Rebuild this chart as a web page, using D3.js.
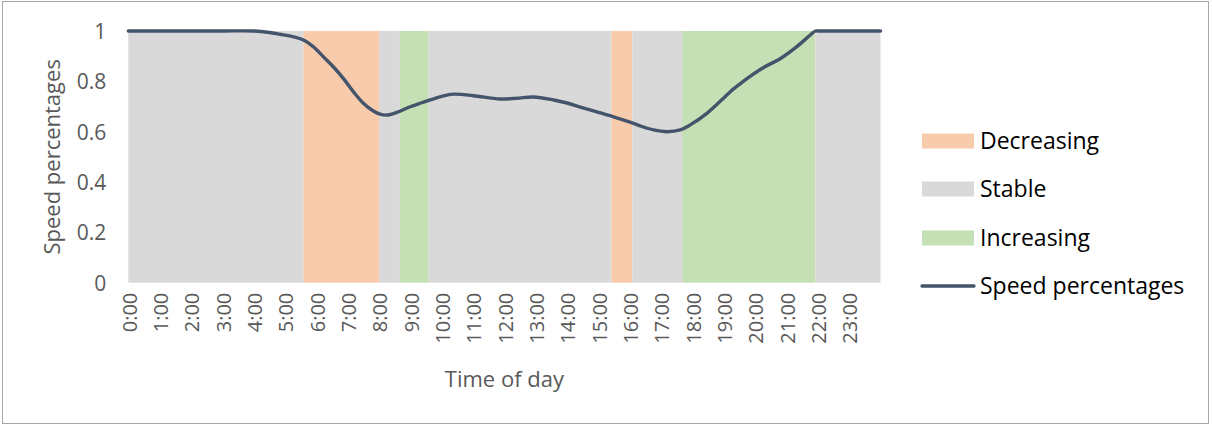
<!DOCTYPE html>
<html>
<head>
<meta charset="utf-8">
<script src="https://cdn.jsdelivr.net/npm/d3@7"></script>
<style>
  html, body { margin: 0; padding: 0; background: #fff; }
  svg { display: block; }
  text { font-family: "Open Sans", Lato, sans-serif; }
</style>
</head>
<body>
<svg id="chart" width="1212" height="427"></svg>
<script>
// ---- Data ----
const segmentStates = ["Stable", "Decreasing", "Stable", "Increasing", "Stable", "Decreasing", "Stable", "Increasing", "Stable"];
const segmentStartHours = [0, 5.583, 8.0, 8.667, 9.583, 15.417, 16.083, 17.667, 21.917];
const segmentEndHours = [5.583, 8.0, 8.667, 9.583, 15.417, 16.083, 17.667, 21.917, 24];

const speedHours = [0, 1, 2, 3, 4, 4.5, 4.84, 5.27, 5.59, 5.90, 6.22, 6.54, 6.86, 7.18, 7.50, 7.82, 8.03, 8.25, 8.57, 8.99, 9.31, 9.63, 10.0, 10.37, 11.01, 11.86, 12.4, 12.93, 13.57, 14.0, 14.42, 15.0, 15.48, 16.12, 16.33, 16.76, 17.19, 17.61, 17.93, 18.46, 18.99, 19.21, 19.52, 19.74, 20.27, 20.80, 21.33, 21.76, 21.92, 22, 23, 24];
const speedValues = [1, 1, 1, 1, 1, 0.994, 0.987, 0.977, 0.964, 0.938, 0.898, 0.858, 0.812, 0.759, 0.713, 0.682, 0.670, 0.666, 0.677, 0.699, 0.713, 0.726, 0.740, 0.749, 0.743, 0.730, 0.733, 0.738, 0.726, 0.714, 0.698, 0.677, 0.659, 0.633, 0.623, 0.607, 0.600, 0.607, 0.627, 0.673, 0.733, 0.759, 0.790, 0.811, 0.855, 0.890, 0.938, 0.984, 1, 1, 1, 1];

const hourLabels = ["0:00","1:00","2:00","3:00","4:00","5:00","6:00","7:00","8:00","9:00","10:00","11:00","12:00","13:00","14:00","15:00","16:00","17:00","18:00","19:00","20:00","21:00","22:00","23:00"];
const yTicks = [0, 0.2, 0.4, 0.6, 0.8, 1];

const legendLabels = ["Decreasing", "Stable", "Increasing", "Speed percentages"];
const stateColors = { Decreasing: "#F8CBAD", Stable: "#D9D9D9", Increasing: "#C5E0B4" };
const lineColor = "#44546A";

// ---- Layout ----
const svg = d3.select("#chart");
const W = 1212, H = 427;
const plot = { left: 128.3, right: 880.5, top: 31, bottom: 282.7 };

svg.append("rect").attr("x", 2.5).attr("y", 1.5).attr("width", W - 6).attr("height", H - 5)
  .attr("fill", "#fff").attr("stroke", "#A6A6A6").attr("stroke-width", 1);

const x = d3.scaleLinear().domain([0, 24]).range([plot.left, plot.right]);
const y = d3.scaleLinear().domain([0, 1]).range([plot.bottom, plot.top]);

// Bands
svg.append("g").selectAll("rect")
  .data(segmentStates.map((s, i) => ({ s, a: segmentStartHours[i], b: segmentEndHours[i] })))
  .join("rect")
  .attr("x", d => x(d.a))
  .attr("width", d => x(d.b) - x(d.a))
  .attr("y", y(1))
  .attr("height", y(0) - y(1))
  .attr("fill", d => stateColors[d.s]);

// Line
const pts = speedHours.map((h, i) => [h, speedValues[i]]);
const line = d3.line().x(d => x(d[0])).y(d => y(Math.min(1, d[1]))).curve(d3.curveCatmullRom.alpha(0.5));
svg.append("path").datum(pts).attr("d", line)
  .attr("fill", "none").attr("stroke", lineColor).attr("stroke-width", 3.4)
  .attr("stroke-linecap", "round").attr("stroke-linejoin", "round");

// Y axis
const yAxis = d3.axisLeft(y).tickValues(yTicks).tickSize(0).tickPadding(0)
  .tickFormat(d => d3.format("~g")(d));
const gy = svg.append("g").attr("transform", `translate(${plot.left - 22},0)`).call(yAxis);
gy.select(".domain").remove();
gy.selectAll("text").attr("fill", "#595959").style("font-size", "21px")
  .style("font-family", "'Open Sans', sans-serif").attr("dy", "0.35em");

// X axis labels
const gx = svg.append("g");
gx.selectAll("text").data(hourLabels).join("text")
  .attr("transform", (d, i) => `translate(${x(i + 2.5 / 60) + 7},${plot.bottom + 10}) rotate(-90)`)
  .attr("text-anchor", "end")
  .attr("fill", "#595959")
  .style("font-size", "20px")
  .text(d => d);

// Axis titles
svg.append("text")
  .attr("transform", `translate(${(plot.left + plot.right) / 2},${387})`)
  .attr("text-anchor", "middle").attr("fill", "#595959").style("font-size", "22px")
  .text("Time of day");
svg.append("text")
  .attr("transform", `translate(${60},${(plot.top + plot.bottom) / 2}) rotate(-90)`)
  .attr("text-anchor", "middle").attr("fill", "#595959").style("font-size", "22px")
  .text("Speed percentages");

// Legend
const legendY = [141, 189, 238, 286];
const lg = svg.append("g");
legendLabels.forEach((lab, i) => {
  const cy = legendY[i];
  if (i < 3) {
    lg.append("rect").attr("x", 922).attr("y", cy - 7.5).attr("width", 52).attr("height", 15)
      .attr("fill", stateColors[lab]);
  } else {
    lg.append("line").attr("x1", 922).attr("x2", 974).attr("y1", cy).attr("y2", cy)
      .attr("stroke", lineColor).attr("stroke-width", 3.4).attr("stroke-linecap", "round");
  }
  lg.append("text").attr("x", 980).attr("y", cy).attr("dy", "0.35em")
    .attr("fill", "#000").style("font-size", "23px").text(lab);
});
</script>
</body>
</html>
